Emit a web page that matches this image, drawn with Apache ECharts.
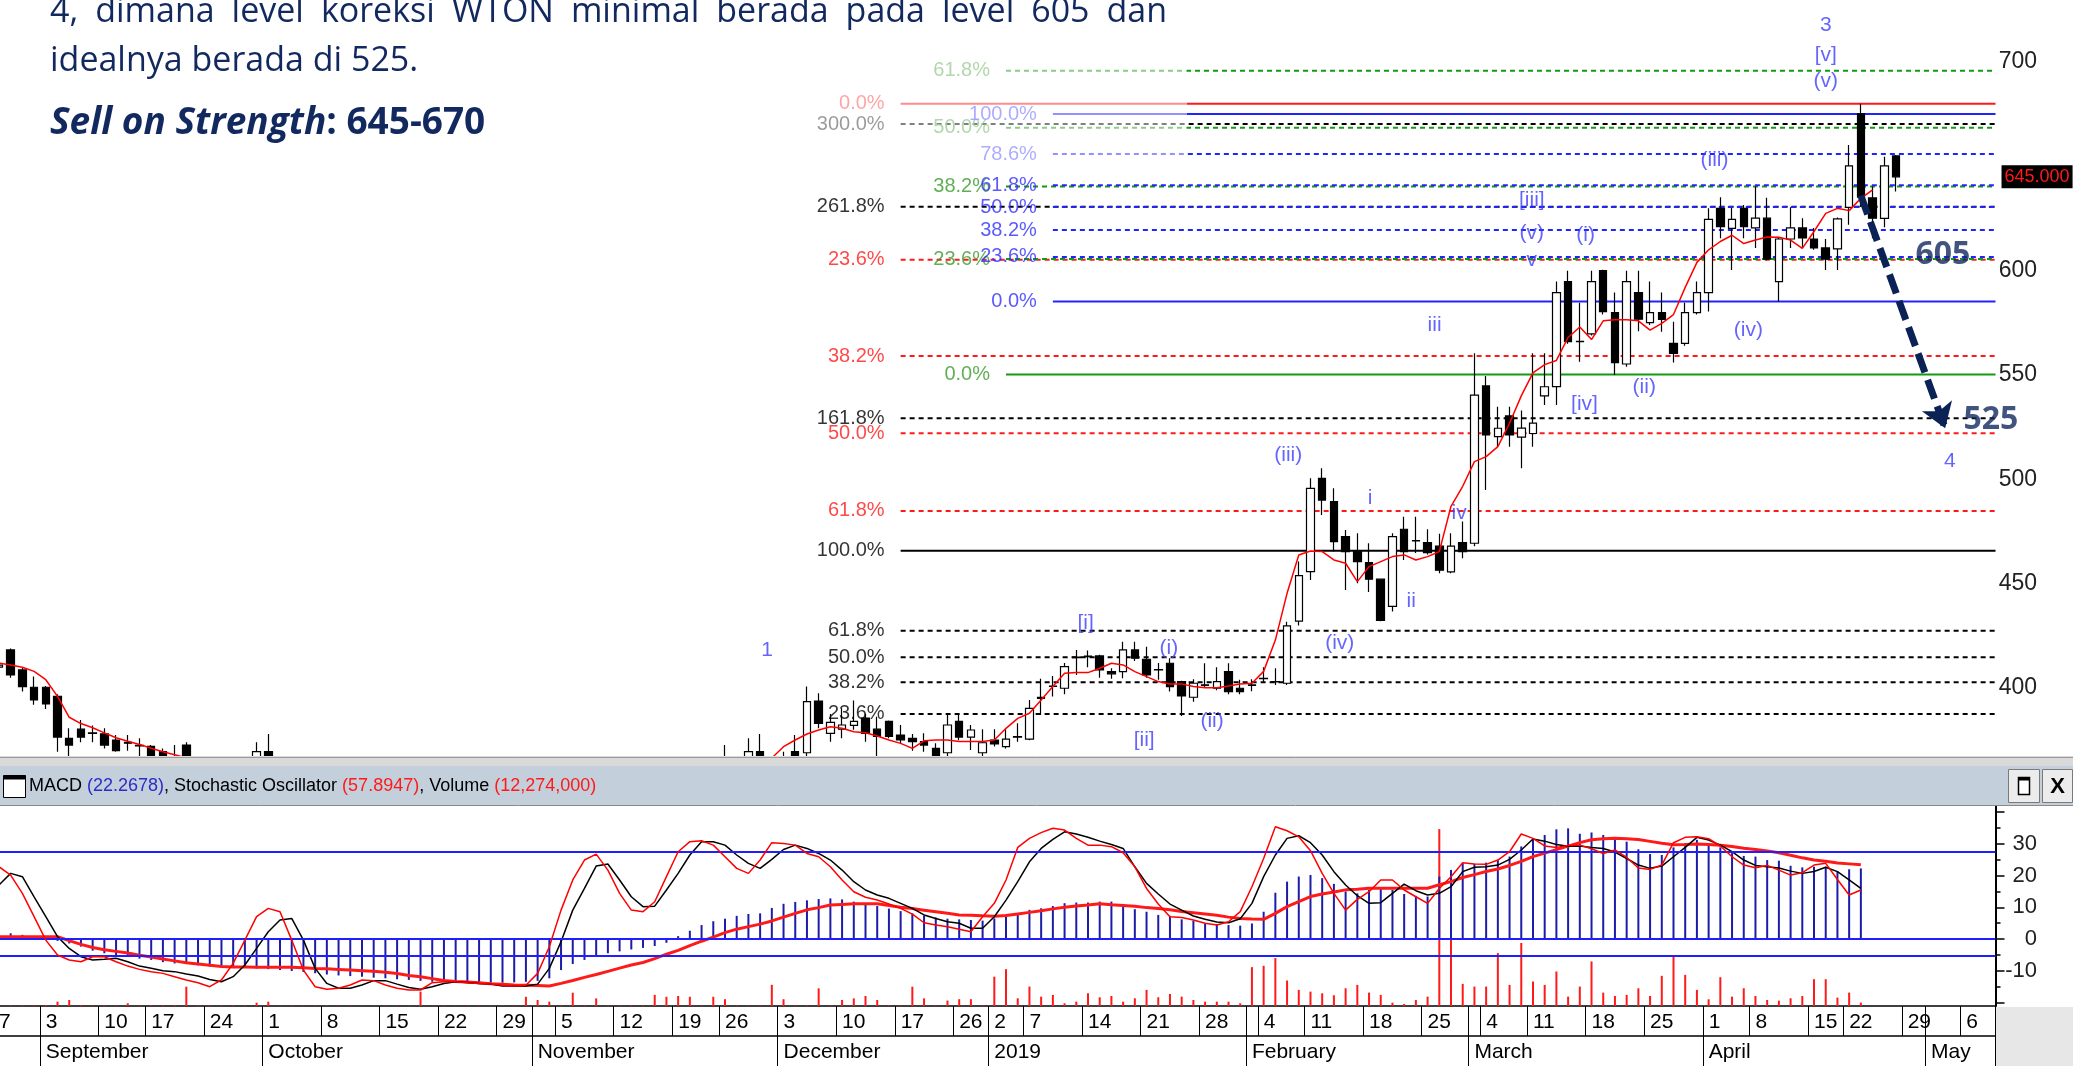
<!DOCTYPE html>
<html>
<head>
<meta charset="utf-8">
<title>WTON</title>
<script src="https://cdn.jsdelivr.net/npm/echarts@6.0.0/dist/echarts.min.js"></script>
<style>
html, body { margin: 0; padding: 0; background: #fff; }
#main { width: 2073px; height: 1066px; }
</style>
</head>
<body>
<div id="main"></div>
<script>
// trading days on the axis (exchange holidays left out), month by month
var tradingDays = [
  ['2018-08', [27, 28, 29, 30, 31]],
  ['2018-09', [3, 4, 5, 6, 7, 10, 12, 13, 14, 17, 18, 19, 20, 21, 24, 25, 26, 27, 28]],
  ['2018-10', [1, 2, 3, 4, 5, 8, 9, 10, 11, 12, 15, 16, 17, 18, 19, 22, 23, 24, 25, 26, 29, 30, 31]],
  ['2018-11', [1, 2, 5, 6, 7, 8, 9, 12, 13, 14, 15, 16, 19, 21, 22, 23, 26, 27, 28, 29, 30]],
  ['2018-12', [3, 4, 5, 6, 7, 10, 11, 12, 13, 14, 17, 18, 19, 20, 21, 26, 27, 28]],
  ['2019-01', [2, 3, 4, 7, 8, 9, 10, 11, 14, 15, 16, 17, 18, 21, 22, 23, 24, 25, 28, 29, 30, 31]],
  ['2019-02', [1, 4, 6, 7, 8, 11, 12, 13, 14, 15, 18, 19, 20, 21, 22, 25, 26, 27, 28]],
  ['2019-03', [1, 4, 5, 6, 8, 11, 12, 13, 14, 15, 18, 19, 20, 21, 22, 25, 26, 27, 28, 29]],
  ['2019-04', [1, 2, 4, 5, 8, 9, 10, 11, 12, 15, 16, 18, 22, 23, 24, 25, 26, 29, 30]],
  ['2019-05', [1, 2, 3, 6, 7, 8]]
];
var monthNames = ['January', 'February', 'March', 'April', 'May', 'June', 'July',
  'August', 'September', 'October', 'November', 'December'];

// WTON daily candles [open, close, low, high]; '-' = below the visible price range
var ohlc = [
  '-', [410, 411, 403, 413], [418.3, 406.3, 405, 419], [408.7, 400.7, 398.3, 410], [400.4, 394.3, 392, 405.5],
  [400.4, 392.4, 390, 401], [396, 376.5, 369.5, 397], [375.9, 372.7, 366.7, 380.7], [380.3, 376.5, 374, 384.7], [378.5, 378.3, 374, 382],
  [378, 372.7, 371, 380.7], [375.1, 370, 369.5, 377.5], [374, 373.6, 370, 377.5], [372.5, 372.3, 367, 375.9],
  [372.1, 367.7, 366, 372.7], [369.5, 366.3, 364, 371], [364, 362, 358, 372.7], [372.7, 364, 362, 374], '-',
  '-', '-', '-', '-', [366.3, 369.5, 362, 374],
  [369.5, 366.3, 362, 378], [362, 360, 356, 366.7], '-', '-', '-',
  '-', '-', '-', '-', '-', '-', '-', '-', '-', '-',
  '-', '-', '-', '-', '-', '-', '-', '-', '-', '-',
  '-', '-', '-', '-', '-', '-', '-', '-', '-', '-',
  '-', '-', '-', '-',
  [362, 360, 356, 372.7], '-', [366.3, 369.5, 362, 375.9], [369.5, 366.3, 362, 378], '-',
  [362, 364, 358, 369.5], [369.5, 365.5, 360, 377.5], [369, 393.5, 365, 400.7],
  // December
  [393.8, 383.1, 380.7, 397.5], [378.3, 383.6, 374.3, 387.6], [380.3, 382.3, 375.9, 390.3], [382.1, 384, 380, 394], [385.6, 378.3, 374.3, 387.6],
  [380.3, 376.8, 365.5, 386.3], [384, 376.8, 376, 384.5], [377.5, 375.1, 373.5, 382.3], [375.9, 374.3, 370, 378], [374.3, 372.7, 369.5, 378.3],
  [371.1, 365.5, 364, 373.5], [369, 382.3, 367.1, 387.1], [384, 376.5, 375, 387.6], [376.5, 379.9, 370.3, 382.3], [369, 373.8, 367, 380.3],
  [375.1, 373.2, 372, 380.3], [371.9, 375.5, 371, 380.3], [376.5, 376.8, 374.3, 383.1],
  // January
  [375.5, 390.3, 375, 394.3], [395.5, 395.1, 387.1, 404.5], [400.8, 401, 395.9, 405.8],
  [399.9, 410.3, 397, 412], [414.6, 414.8, 406.3, 418.3], [415.3, 415.1, 410, 418], [415.4, 408.7, 405, 416], [407.9, 406.8, 404.5, 409.5],
  [407.9, 418.3, 404.7, 422.2], [418.3, 414.3, 413, 422.2], [413.8, 406.3, 405, 419.8], [408.9, 408.7, 404, 412], [411.9, 400.7, 398.3, 414.3],
  [403.1, 396.2, 386.6, 403.5], [395.6, 402.3, 393.5, 404.2], [401.3, 401.5, 400, 411.9], [399.9, 403.1, 399, 410], [407.9, 398.3, 397, 411.9],
  [399.9, 398.3, 397, 404], [401.3, 401.5, 398.5, 404.2], [404.5, 404.7, 403, 410], [403, 403.1, 401.5, 409.5],
  // February
  [402.3, 429.8, 401.5, 431.8], [432.1, 453.9, 430, 460.6], [455.8, 495.7, 451.8, 500.5], [500.5, 490.1, 482.9, 505.3], [489.3, 470.2, 465.4, 495.8],
  [472.6, 465.4, 447, 475.8], [465.4, 460.6, 450.2, 474.2], [460.1, 452.2, 446, 469.4], [452.2, 432.4, 432, 452.2], [439.1, 472.6, 436.7, 474.2],
  [476.1, 465.4, 461.4, 482.1], [470.7, 470.5, 464.7, 482.1], [469.7, 464.9, 464, 476.1], [468, 456.5, 455, 474], [455.7, 468, 455, 474.2],
  [469.7, 465.4, 462.2, 479.8], [469.4, 540.4, 468, 560.4], [544.8, 521.3, 494.9, 549.5], [520.5, 524.5, 515.7, 534.8],
  // March
  [530.4, 521.3, 515.7, 534.8], [520.3, 524.6, 505.3, 533], [522, 527, 515.7, 560.5], [540, 544.4, 535.7, 560.5], [544.5, 589.5, 535.7, 594.8],
  [594.8, 566, 565, 600], [566.2, 566, 556.4, 584.7], [569.7, 594.8, 569, 600], [600, 580.4, 579, 600.5], [579.9, 556, 550, 589.5],
  [555.3, 594.8, 554, 600], [589.5, 576.8, 571, 600], [575.1, 579.9, 574, 594.8], [579.9, 576.7, 570.8, 589.5], [565.2, 560.4, 556, 575.6],
  [565.2, 579.9, 564, 584.7], [579.9, 589.5, 579, 594.8], [589.5, 624.6, 580.4, 629.9], [629.9, 621.1, 615.5, 635.2], [620.3, 624.6, 600.3, 630],
  // April
  [629.9, 621.1, 615.5, 631.5], [620.5, 625.2, 610.9, 640.3], [625.2, 605.6, 605, 635], [594.8, 615.2, 585.2, 616],
  [615.2, 620.5, 610.9, 630.4], [620.5, 615.7, 610.9, 625.2], [615.2, 610.9, 610, 620.5], [610.9, 605.6, 600.3, 615.2], [610.5, 624.8, 600.3, 625.5],
  [630.4, 650.2, 622, 660.2], [675.2, 635.3, 630.5, 680], [634.9, 625.2, 615.5, 640.3],
  [625.1, 650.2, 620.8, 654.6], [655, 645, 638, 655.5]
];

// red moving average on the candles
var ma = [
  413, 412, 411, 410, 408, 404, 396, 386, 383, 381, 378.5, 376.2, 374.5, 373, 371.2, 369.5, 368, 366.5, 364,
  '-', '-', '-', '-', '-', '-', '-', '-', '-', '-', '-', '-', '-', '-', '-', '-', '-', '-', '-', '-', '-', '-', '-',
  '-', '-', '-', '-', '-', '-', '-', '-', '-', '-', '-', '-', '-', '-', '-', '-', '-', '-', '-', '-', '-', '-', '-', '-',
  362, 366.5, 371.9, 375.1, 378, 379.9, 381.5, 380.7, 379.1, 378.6,
  377, 375.1, 373.5, 371.1, 374.7, 375.1, 375.1, 374.4, 374.4, 374.4,
  375.1, 380.7, 385.5, 387.9, 394.3, 400.7, 407.1, 407.4, 407.4, 409.5,
  411.9, 411.1, 407.9, 405.5, 403.1, 402, 402, 400.7, 400.2, 400.2,
  401, 402, 402.3, 408, 423, 445.4, 463.8, 465.7, 465.4, 461.4,
  459.8, 451, 458.2, 460.6, 463, 463.8, 461.4, 463, 465.4, 487.1,
  496.7, 508.5, 510.9, 515.7, 526.9, 540, 551, 555, 557, 568,
  573, 567, 576, 576.5, 576.5, 576, 571.5, 574.8, 579, 592,
  604, 610, 614, 617, 613, 614.7, 616.2, 616, 614.7, 610.7,
  618.8, 627.5, 629.9, 628.8, 634.7, 638.7
];

// MACD (blue histogram) and its signal line (thick red)
var macd = [
  1.8, 2.0, 1.8, 1.3, 0.7, -0.1, -0.6, -1.4, -2.4, -3.7,
  -4.5, -5.1, -5.6, -6.2, -6.6, -7.3, -7.7, -7.9, -8.3, -8.7,
  -8.7, -8.7, -8.9, -9.3, -9.5, -9.8, -10.1, -10.4, -10.8, -11.2,
  -11.5, -11.7, -11.9, -12.2, -12.4, -12.7, -12.9, -13.2, -13.5, -13.6,
  -13.7, -13.8, -13.8, -13.8, -13.8, -13.7, -13.5, -13.2, -12.4, -9.8,
  -7.9, -6.6, -5.3, -4.5, -3.9, -3.3, -2.8, -2.2, -1.2, 0.9,
  2.6, 4.4, 5.6, 6.4, 7.3, 7.9, 8.1, 9.8, 11.1, 11.7,
  12.2, 12.6, 12.8, 12.5, 11.8, 11.2, 10.4, 9.6, 8.8, 8.1,
  7.4, 6.8, 6.4, 6.2, 6.0, 5.8,
  6.5, 7.1, 7.6, 9.2, 9.7, 10.4, 11.3, 11.5, 11.5, 11.8,
  11.8, 10.7, 9.4, 8.6, 7.6, 7.3, 6.2, 5.8, 4.9, 4.7,
  4.4, 4.2, 4.9, 8.6, 14.6, 18.1, 19.7, 20.2, 19.2, 17.4,
  15.0, 14.4, 15.5, 16.0, 15.5, 14.2, 13.6, 13.4, 19.7, 21.8,
  23.9, 23.7, 24.1, 24.9, 26.0, 29.2, 31.3, 32.8, 34.6, 34.9,
  33.2, 33.6, 32.8, 32.1, 30.7, 28.3, 26.8, 26.5, 28.9, 30.2,
  31.3, 29.7, 28.9, 27.1, 26.2, 26.0, 24.9, 24.7, 23.1, 22.6,
  22.8, 22.8, 21.3, 22.0, 22.2678
];
var signal = [
  0.7, 0.7, 0.7, 0.7, 0.7, 0.7, 0.7, -0.5, -1.7, -2.7,
  -3.4, -3.9, -4.4, -5.1, -5.7, -6.3, -6.9, -7.5, -7.9, -8.3,
  -8.7, -8.8, -8.8, -8.9, -8.9, -8.9, -8.9, -9.1, -9.3, -9.4,
  -9.6, -9.8, -10.0, -10.2, -10.5, -10.9, -11.5, -11.9, -12.5, -13.1,
  -13.4, -13.6, -13.8, -14.1, -14.3, -14.5, -14.6, -14.7, -14.8, -14.0,
  -13.1, -12.1, -11.2, -10.2, -9.2, -8.2, -7.4, -6.2, -4.8, -3.6,
  -2.1, -0.7, 0.6, 2.0, 3.1, 3.9, 4.7, 5.7, 6.9, 8.1,
  9.2, 9.9, 10.7, 10.9, 11.1, 11.1, 11.1, 10.6, 10.0, 9.6,
  9.1, 8.6, 8.1, 7.6, 7.5, 7.3, 7.2,
  7.4, 7.9, 8.4, 8.9, 9.5, 10.0, 10.4, 10.7, 11.1, 10.8,
  10.6, 10.3, 9.9, 9.6, 9.2, 8.7, 8.3, 7.9, 7.5, 6.9,
  6.5, 6.3, 6.2, 8.1, 10.2, 11.8, 13.4, 14.2, 14.8, 15.5,
  15.7, 16.0, 16.0, 16.0, 16.0, 16.0, 16.0, 17.1, 18.1, 19.4,
  20.3, 21.3, 22.1, 23.2, 24.5, 26.0, 27.1, 28.2, 29.3, 30.4,
  31.3, 31.6, 31.8, 31.6, 31.4, 30.8, 30.2, 29.7, 29.8, 30.0,
  29.8, 29.6, 29.2, 28.6, 28.2, 27.8, 27.2, 26.4, 25.6, 24.9,
  24.5, 24.0, 23.7, 23.4
];

// stochastic oscillator: %K (red) and %D (black)
var stochK = [
  69.4, 71.3, 66.5, 56.0, 42.5, 29.0, 20.4, 17.5, 16.5, 19.4,
  19.4, 16.5, 14.0, 12.1, 10.8, 9.8, 7.9, 6.0, 4.4, 2.1,
  6.0, 15.6, 29.0, 42.5, 47.3, 45.4, 29.0, 11.7, 2.1, 0.6,
  1.2, 3.1, 6.0, 5.6, 3.1, 1.2, 0.2, 0.2, 4.4, 5.0,
  5.0, 4.4, 4.0, 3.6, 2.9, 2.5, 2.9, 9.8, 25.2, 46.3,
  63.7, 75.2, 78.6, 69.4, 56.0, 46.3, 45.4, 51.1, 65.6, 80.0,
  85.8, 86.3, 83.8, 77.1, 70.4, 67.5, 75.2, 85.2, 84.8, 83.8,
  79.0, 77.1, 71.3, 63.7, 56.9, 53.7, 52.1, 49.8, 47.3, 44.0,
  39.0, 37.7, 36.7, 35.2, 33.8, 42.5,
  50.2, 63.7, 82.5, 87.7, 91.0, 93.5, 92.5, 87.7, 83.8, 83.8,
  82.9, 79.4, 71.3, 58.8, 49.8, 42.5, 42.1, 40.6, 38.7, 37.7,
  39.6, 45.4, 59.8, 76.1, 94.4, 92.1, 88.6, 80.6, 67.5, 56.0,
  46.3, 52.5, 56.9, 63.7, 63.7, 57.9, 54.0, 50.2, 58.8, 65.6,
  73.6, 72.9, 72.7, 75.2, 80.0, 90.2, 87.7, 83.3, 82.5, 83.6,
  83.8, 81.7, 79.0, 81.0, 76.7, 70.6, 69.8, 72.3, 85.2, 88.3,
  88.6, 87.5, 83.3, 77.1, 72.3, 70.8, 72.1, 69.4, 66.5, 67.9,
  72.3, 73.3, 64.0, 55.0, 57.8947
];
var stochD = [
  56.0, 60.8, 67.5, 65.6, 54.0, 42.5, 31.0, 24.2, 19.4, 17.5,
  17.9, 18.5, 16.5, 14.0, 12.7, 11.3, 10.8, 9.4, 8.3, 6.3,
  5.0, 7.9, 14.6, 24.2, 33.8, 40.6, 41.5, 29.0, 12.7, 4.0,
  1.2, 1.2, 3.1, 5.6, 5.6, 3.6, 1.7, 0.6, 2.1, 4.0,
  5.0, 4.6, 4.0, 3.6, 2.5, 2.5, 2.5, 3.6, 12.7, 28.1,
  46.3, 58.8, 71.7, 72.9, 63.7, 54.0, 48.3, 48.6, 57.9, 67.5,
  78.1, 85.8, 85.8, 83.8, 78.1, 73.3, 70.4, 75.6, 81.3, 83.8,
  81.9, 79.0, 75.2, 69.4, 62.7, 57.9, 55.0, 53.1, 50.2, 47.3,
  43.5, 41.5, 39.6, 38.7, 35.8, 35.8,
  42.5, 52.1, 62.7, 74.2, 81.9, 87.1, 91.5, 90.2, 88.3, 86.1,
  84.2, 81.9, 71.3, 61.7, 55.6, 49.8, 46.3, 42.9, 41.0, 39.5,
  39.0, 41.3, 50.2, 65.6, 78.1, 87.7, 89.2, 85.2, 78.1, 68.5,
  60.8, 54.6, 50.2, 50.6, 56.0, 61.3, 57.5, 55.0, 56.0, 59.8,
  68.5, 71.0, 71.3, 72.3, 75.6, 81.0, 87.3, 86.1, 84.2, 83.1,
  83.3, 82.5, 81.9, 79.8, 76.1, 72.3, 70.4, 71.7, 77.1, 82.5,
  88.3, 86.7, 83.8, 80.0, 75.2, 72.1, 71.3, 70.6, 68.8, 67.5,
  68.6, 71.0, 68.5, 63.7, 58.8
];

// volume, millions of shares
var volume = [
  3, 12, 2, 2, 2, 3, 16, 22, 3, 2,
  2, 2, 10, 2, 2, 2, 3, 71, 2, 2,
  2, 2, 2, 12, 16, 1.5, 1.5, 1.5, 1.5, 1.5,
  1.5, 1.5, 1.5, 1.5, 1.5, 1.5, 1.5, 53, 1.5, 1.5,
  1.5, 1.5, 1.5, 1.5, 1.5, 1.5, 34, 22, 16, 2,
  49, 2, 28, 2, 2, 2, 2, 41, 34, 37,
  34, 2, 34, 25, 2, 2, 2, 78, 25, 2,
  2, 65, 2, 22, 28, 37, 22, 2, 2, 71,
  28, 2, 20, 25, 25, 2, 108,
  135.6, 28.4, 71.5, 34.5, 40.7, 9.9, 16.0, 46.9, 32.1, 37.0,
  16.0, 28.4, 59.2, 32.1, 44.4, 34.5, 22.2, 16.0, 16.0, 16.0,
  9.9, 143.0, 148.0, 176.3, 93.7, 59.2, 53.0, 46.9, 39.5, 65.3,
  77.7, 49.3, 40.7, 12.3, 7.4, 22.2, 34.5, 651, 314.4, 81.4,
  71.5, 71.5, 194.8, 77.7, 231.8, 90.0, 77.7, 127.0, 34.5, 71.5,
  164.0, 49.3, 37.0, 40.7, 65.3, 37.0, 111.0, 185.0, 114.7, 59.2,
  24.7, 106.0, 34.5, 65.3, 37.0, 22.2, 19.7, 28.4, 37.0, 98.6,
  98.6, 30.8, 49.3, 12.274
];

// Fibonacci levels [price, label]
var fibBlack = [[387.6, '23.6%'], [402.8, '38.2%'], [414.8, '50.0%'], [427.5, '61.8%'],
  [465.8, '100.0%'], [529.3, '161.8%'], [630.7, '261.8%'], [670.3, '300.0%']];
var fibRed = [[680, '0.0%'], [605.2, '23.6%'], [559.1, '38.2%'], [522.1, '50.0%'], [484.9, '61.8%']];
var fibGreen = [[550.3, '0.0%'], [605.6, '23.6%'], [640.3, '38.2%'], [668.5, '50.0%'], [695.8, '61.8%']];
var fibBlue = [[585.3, '0.0%'], [606.6, '23.6%'], [619.5, '38.2%'], [630.5, '50.0%'],
  [640.9, '61.8%'], [655.9, '78.6%'], [675.1, '100.0%']];
var fibStartBlack = '2018-12-17', fibStartGreen = '2019-01-03', fibStartBlue = '2019-01-09';

// Elliott wave counts [text, day index, price]
var waveLabels = [
  ['1', 66.6, 418.3], ['[i]', 93.8, 431], ['[ii]', 98.8, 374.8], ['(i)', 100.9, 419.1], ['(ii)', 104.6, 383.9],
  ['(iii)', 111.1, 511.7], ['(iv)', 115.5, 421.5], ['i', 118.1, 490.9], ['ii', 121.6, 441.4], ['iii', 123.6, 574],
  ['iv', 125.7, 483.7], ['v', 131.9, 605.1], ['(v)', 131.9, 617.9], ['[iii]', 131.9, 633.9], ['(i)', 136.5, 617.1],
  ['[iv]', 136.4, 536.1], ['(ii)', 141.5, 544.4], ['(iii)', 147.5, 653], ['(iv)', 150.4, 571.6],
  ['(v)', 157, 690.6], ['[v]', 157, 703.4], ['3', 157, 717.7], ['4', 167.6, 508.8]
];
var arrowPath = [[160, 636], [167.2, 524.5]];
var targets = [['605', 167, 607.5], ['525', 171.1, 528.5]];

// ---------------------------------------------------------------
var cats = [];
tradingDays.forEach(function (m) {
  m[1].forEach(function (d) { cats.push(m[0] + '-' + (d < 10 ? '0' + d : d)); });
});
var N = cats.length;
var XMAX = N - 0.5;
var weekStart = [], monthStart = [];
cats.forEach(function (c, i) {
  var d = new Date(c + 'T00:00:00Z');
  var p = i > 0 ? new Date(cats[i - 1] + 'T00:00:00Z') : null;
  weekStart.push(!p || d.getUTCDay() <= p.getUTCDay() || (d - p) > 6 * 864e5);
  monthStart.push(!!p && d.getUTCMonth() !== p.getUTCMonth());
});

var NARROW = "'Liberation Sans Narrow', 'Arial Narrow', 'Liberation Sans', Arial, sans-serif";
var SLIDE = "'Open Sans', 'Noto Sans', sans-serif";
var NAVY = '#12295f';
var WAVE = '#3d3dff';
var BAND = 11.71, GRID_LEFT = -18.6, GRID_W = N * BAND;

function fibSeries(levels, startDate, color, labelColor) {
  var s = cats.indexOf(startDate);
  var out = levels.map(function (lv) {
    var solid = lv[1] === '0.0%' || lv[1] === '100.0%';
    return {
      type: 'line', xAxisIndex: 1, yAxisIndex: 0, silent: true, symbol: 'none', z: 1,
      data: [[s, lv[0]], [XMAX, lv[0]]],
      lineStyle: { color: color, width: 2, type: solid ? 'solid' : [5, 4] }
    };
  });
  out.push({
    type: 'scatter', xAxisIndex: 1, yAxisIndex: 0, symbolSize: 0, silent: true, z: 6,
    data: levels.map(function (lv) { return { value: [s, lv[0]], label: { formatter: lv[1] } }; }),
    label: { show: true, position: 'left', distance: 16, color: labelColor, fontSize: 20, fontFamily: NARROW,
      textBorderWidth: 0 }
  });
  return out;
}

var lastClose = ohlc[ohlc.length - 1][1];

var series = [].concat(
  fibSeries(fibBlack, fibStartBlack, '#000000', '#000000'),
  fibSeries(fibRed, fibStartBlack, '#ff1a1a', '#ff1a1a'),
  fibSeries(fibGreen, fibStartGreen, '#139a13', '#3a9a2a'),
  fibSeries(fibBlue, fibStartBlue, '#2323ff', '#3030ff'),
  [
    {
      type: 'candlestick', name: 'WTON', xAxisIndex: 0, yAxisIndex: 0, data: ohlc, barWidth: 8, z: 3,
      silent: true,
      itemStyle: { color: '#ffffff', color0: '#000000', borderColor: '#000000', borderColor0: '#000000',
        borderColorDoji: '#000000', borderWidth: 1.2 }
    },
    {
      type: 'line', name: 'MA', xAxisIndex: 0, yAxisIndex: 0, data: ma, symbol: 'none', z: 4, silent: true,
      connectNulls: false, lineStyle: { color: '#ff0000', width: 1.5 },
      markLine: {
        silent: true, symbol: 'none', data: [{ yAxis: lastClose }], z: 20,
        lineStyle: { color: 'rgba(0,0,0,0)', width: 1 },
        label: { show: true, position: 'end', distance: 6, formatter: lastClose.toFixed(3), backgroundColor: '#000',
          color: '#ff1a1a', fontSize: 18, fontFamily: NARROW, padding: [3, 3, 2, 3], textBorderWidth: 0 }
      }
    },
    {
      type: 'scatter', name: 'waves', xAxisIndex: 1, yAxisIndex: 0, symbolSize: 0, silent: true, z: 7,
      data: waveLabels.map(function (w) { return { value: [w[1], w[2]], label: { formatter: w[0] } }; }),
      label: { show: true, position: 'inside', color: WAVE, fontSize: 21, fontFamily: NARROW, textBorderWidth: 0 },
      markLine: {
        silent: true, symbol: ['none', 'arrow'], symbolSize: 24,
        label: { show: false },
        lineStyle: { color: '#0b2256', width: 7, type: [20, 8], opacity: 1 },
        data: [[{ coord: arrowPath[0] }, { coord: arrowPath[1] }]]
      }
    },
    {
      type: 'scatter', name: 'targets', xAxisIndex: 1, yAxisIndex: 0, symbolSize: 0, silent: true, z: 8,
      data: targets.map(function (t) { return { value: [t[1], t[2]], label: { formatter: t[0] } }; }),
      label: { show: true, position: 'inside', color: NAVY, fontSize: 32, fontWeight: 'bold', fontFamily: SLIDE,
        textBorderWidth: 0 }
    },
    // indicator panel
    {
      type: 'bar', name: 'Volume', xAxisIndex: 3, yAxisIndex: 3, data: volume, barWidth: 2, z: 1, silent: true,
      itemStyle: { color: '#ff1a1a' }
    },
    {
      type: 'bar', name: 'MACD', xAxisIndex: 2, yAxisIndex: 1, data: macd, barWidth: 2, z: 2, silent: true,
      itemStyle: { color: '#1c1ca8' },
      markLine: { silent: true, symbol: 'none', label: { show: false }, data: [{ yAxis: 0 }],
        lineStyle: { color: '#1e1eff', width: 2, type: 'solid' } }
    },
    {
      type: 'line', name: 'Signal', xAxisIndex: 2, yAxisIndex: 1, data: signal, symbol: 'none', z: 3, silent: true,
      lineStyle: { color: '#ff1a1a', width: 3 }
    },
    {
      type: 'line', name: '%D', xAxisIndex: 2, yAxisIndex: 2, data: stochD, symbol: 'none', z: 4, silent: true,
      lineStyle: { color: '#000000', width: 1.5 },
      markLine: { silent: true, symbol: 'none', label: { show: false }, data: [{ yAxis: 80 }, { yAxis: 20 }],
        lineStyle: { color: '#1e1eff', width: 2, type: 'solid' } }
    },
    {
      type: 'line', name: '%K', xAxisIndex: 2, yAxisIndex: 2, data: stochK, symbol: 'none', z: 5, silent: true,
      lineStyle: { color: '#ff0000', width: 1.5 }
    }
  ]
);

// ---------------------------------------------------------------
function justifyWords(text, x0, x1, y, font) {
  var ctx = document.createElement('canvas').getContext('2d');
  ctx.font = font;
  var words = text.split(' ');
  var w = words.map(function (t) { return ctx.measureText(t).width; });
  var gap = (x1 - x0 - w.reduce(function (a, b) { return a + b; }, 0)) / (words.length - 1);
  var x = x0;
  return words.map(function (t, i) {
    var el = { type: 'text', z: 60, silent: true, x: x, y: y,
      style: { text: t, font: font, fill: NAVY, textVerticalAlign: 'middle' } };
    x += w[i] + gap;
    return el;
  });
}

var headerText = '{k|MACD }{b|(' + macd[macd.length - 1].toFixed(4) + ')}{k|, Stochastic Oscillator }{r|(' +
  stochK[stochK.length - 1].toFixed(4) + ')}{k|, Volume }{r|(' +
  Math.round(volume[volume.length - 1] * 1e6).toLocaleString('en-US') + ')}';

var graphics = [
  { type: 'rect', z: 50, silent: true, shape: { x: 0, y: 0, width: 1187, height: 168 },
    style: { fill: 'rgba(255,255,255,0.5)' } },
  { type: 'text', z: 60, silent: true, x: 50, y: 61,
    style: { text: 'idealnya berada di 525.', font: '34px ' + SLIDE, fill: NAVY, textVerticalAlign: 'middle' } },
  { type: 'text', z: 60, silent: true, x: 50, y: 123,
    style: { text: '{a|Sell on Strength}{b|: 645-670}', textVerticalAlign: 'middle',
      rich: { a: { font: 'italic bold 37px ' + SLIDE, fill: NAVY }, b: { font: 'bold 37px ' + SLIDE, fill: NAVY } } } },
  // separator and indicator title bar
  { type: 'rect', z: 50, silent: true, shape: { x: 0, y: 756, width: 2073, height: 10 }, style: { fill: '#d9d9d9' } },
  { type: 'line', z: 51, silent: true, shape: { x1: 0, y1: 757.5, x2: 2073, y2: 757.5 }, style: { stroke: '#9a9a9a', lineWidth: 1 } },
  { type: 'rect', z: 50, silent: true, shape: { x: 0, y: 766, width: 2073, height: 39 }, style: { fill: '#c4cfdc' } },
  { type: 'line', z: 51, silent: true, shape: { x1: 0, y1: 805.5, x2: 2073, y2: 805.5 }, style: { stroke: '#8a8a8a', lineWidth: 1 } },
  { type: 'rect', z: 52, silent: true, shape: { x: 3.5, y: 775.5, width: 22, height: 22 }, style: { fill: '#fff', stroke: '#000', lineWidth: 1 } },
  { type: 'rect', z: 52, silent: true, shape: { x: 3.5, y: 775.5, width: 22, height: 4 }, style: { fill: '#000' } },
  { type: 'text', z: 52, silent: true, x: 29, y: 786,
    style: { text: headerText, textVerticalAlign: 'middle',
      rich: {
        k: { fill: '#000', fontSize: 18, fontFamily: NARROW },
        b: { fill: '#2b2bc8', fontSize: 18, fontFamily: NARROW },
        r: { fill: '#ff1a1a', fontSize: 18, fontFamily: NARROW }
      } } },
  { type: 'rect', z: 52, silent: true, shape: { x: 2008.5, y: 769.5, width: 31, height: 33 }, style: { fill: '#ececec', stroke: '#7a7a7a', lineWidth: 1 } },
  { type: 'rect', z: 53, silent: true, shape: { x: 2018.5, y: 777.5, width: 11, height: 17 }, style: { fill: '#fff', stroke: '#000', lineWidth: 1.5 } },
  { type: 'rect', z: 53, silent: true, shape: { x: 2018.5, y: 777.5, width: 11, height: 3 }, style: { fill: '#000' } },
  { type: 'rect', z: 52, silent: true, shape: { x: 2042.5, y: 769.5, width: 30, height: 33 }, style: { fill: '#ececec', stroke: '#7a7a7a', lineWidth: 1 } },
  { type: 'text', z: 53, silent: true, x: 2057.5, y: 787,
    style: { text: 'X', font: 'bold 22px ' + NARROW, fill: '#000', textAlign: 'center', textVerticalAlign: 'middle' } },
  { type: 'rect', z: 50, silent: true, shape: { x: 1996, y: 1007, width: 77, height: 59 }, style: { fill: '#e7e7e7' } }
].concat(justifyWords('4, dimana level koreksi WTON minimal berada pada level 605 dan', 50, 1167, 12, '34px ' + SLIDE));

var option = {
  animation: false,
  backgroundColor: '#ffffff',
  textStyle: { fontFamily: NARROW },
  grid: [
    { left: GRID_LEFT, top: -42.3, width: GRID_W, height: 834.7, containLabel: false, outerBoundsMode: 'none' },
    { left: GRID_LEFT, top: 812.2, width: GRID_W, height: 190.2, containLabel: false, outerBoundsMode: 'none' },
    { left: GRID_LEFT, top: 806, width: GRID_W, height: 200, containLabel: false, outerBoundsMode: 'none' }
  ],
  xAxis: [
    { type: 'category', gridIndex: 0, data: cats, boundaryGap: true, show: false },
    { type: 'value', gridIndex: 0, min: -0.5, max: XMAX, show: false },
    { type: 'category', gridIndex: 1, data: cats, boundaryGap: true, show: false },
    {
      type: 'category', gridIndex: 2, data: cats, boundaryGap: true, position: 'bottom',
      axisLine: { show: true, lineStyle: { color: '#000', width: 1.5 } },
      axisTick: { show: true, interval: function (i) { return weekStart[i] || monthStart[i]; }, length: 30,
        lineStyle: { color: '#000', width: 1 } },
      axisLabel: { show: true, interval: function (i) { return weekStart[i]; },
        formatter: function (v) { return String(+v.slice(8)); },
        align: 'left', margin: 6, color: '#000', fontSize: 21, fontFamily: NARROW },
      splitLine: { show: false }
    },
    {
      type: 'category', gridIndex: 2, data: cats, boundaryGap: true, position: 'bottom', offset: 30,
      axisLine: { show: true, lineStyle: { color: '#000', width: 1.5 } },
      axisTick: { show: true, interval: function (i) { return monthStart[i]; }, length: 30,
        lineStyle: { color: '#000', width: 1 } },
      axisLabel: { show: true, interval: function (i) { return monthStart[i]; },
        formatter: function (v) {
          var m = +v.slice(5, 7) - 1;
          return m === 0 ? v.slice(0, 4) : monthNames[m];
        },
        align: 'left', margin: 6, color: '#000', fontSize: 21, fontFamily: NARROW },
      splitLine: { show: false }
    }
  ],
  yAxis: [
    {
      type: 'value', gridIndex: 0, position: 'right', min: 350, max: 750, interval: 50,
      axisLine: { show: true, lineStyle: { color: '#000', width: 2 } },
      axisTick: { show: true, length: 12, lineStyle: { color: '#000', width: 1.5 } },
      minorTick: { show: true, splitNumber: 5, length: 6, lineStyle: { color: '#000', width: 1.5 } },
      axisLabel: { show: true, align: 'right', margin: 41.5, color: '#222', fontSize: 23, fontFamily: NARROW,
        // the last-price tag sits on top of the nearest tick label
        formatter: function (v) { return v >= 400 && v <= 700 && Math.abs(v - lastClose) > 10 ? String(v) : ''; } },
      splitLine: { show: false }, minorSplitLine: { show: false }
    },
    {
      type: 'value', gridIndex: 1, position: 'right', min: -20, max: 40, interval: 10,
      axisLine: { show: false },
      axisTick: { show: true, length: 9, lineStyle: { color: '#000', width: 1.5 } },
      minorTick: { show: true, splitNumber: 2, length: 5, lineStyle: { color: '#000', width: 1.5 } },
      axisLabel: { show: true, align: 'right', margin: 41.5, color: '#222', fontSize: 22, fontFamily: NARROW,
        formatter: function (v) { return v >= -10 && v <= 30 ? String(v) : ''; } },
      splitLine: { show: false }
    },
    { type: 'value', gridIndex: 1, min: -6.95, max: 102.8, show: false, splitLine: { show: false } },
    {
      type: 'value', gridIndex: 2, position: 'right', min: 0, max: 736,
      axisLine: { show: true, lineStyle: { color: '#000', width: 2 } },
      axisTick: { show: false }, axisLabel: { show: false }, splitLine: { show: false }
    }
  ],
  series: series,
  graphic: { elements: graphics }
};

var myChart = echarts.init(document.getElementById('main'));
myChart.setOption(option);
</script>
</body>
</html>
